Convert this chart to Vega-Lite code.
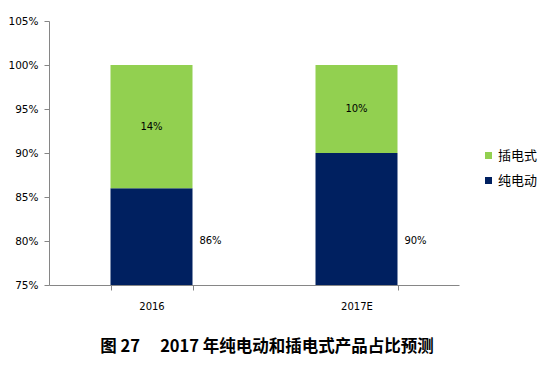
{
  "$schema": "https://vega.github.io/schema/vega-lite/v6.json",
  "width": 410,
  "height": 264,
  "autosize": "none",
  "padding": {"left": 49, "top": 21, "right": 82, "bottom": 90},
  "background": "white",
  "config": {
    "view": {"stroke": null},
    "font": "DejaVu Sans"
  },
  "title": {
    "text": "图 27\u3000\u00a02017 年纯电动和插电式产品占比预测",
    "orient": "bottom",
    "anchor": "middle",
    "dx": 13,
    "offset": 28,
    "font": "Noto Sans CJK SC",
    "fontSize": 16.5,
    "fontWeight": "bold",
    "color": "#000000"
  },
  "data": {
    "values": [
      {"year": "2016", "type": "纯电动", "value": 0.86},
      {"year": "2016", "type": "插电式", "value": 0.14},
      {"year": "2017E", "type": "纯电动", "value": 0.90},
      {"year": "2017E", "type": "插电式", "value": 0.10}
    ]
  },
  "encoding": {
    "x": {
      "field": "year",
      "type": "nominal",
      "scale": {"paddingInner": 0.6, "paddingOuter": 0.3},
      "axis": {
        "title": null,
        "labelAngle": 0,
        "tickBand": "extent",
        "domainColor": "#868686",
        "tickColor": "#868686",
        "tickSize": 5,
        "labelPadding": 11,
        "labelFontSize": 10,
        "labelColor": "#000000"
      }
    }
  },
  "layer": [
    {
      "mark": {"type": "bar", "clip": true},
      "encoding": {
        "y": {
          "field": "value",
          "type": "quantitative",
          "stack": "zero",
          "scale": {"domain": [0.75, 1.05], "nice": false, "zero": false},
          "axis": {
            "title": null,
            "values": [0.75, 0.8, 0.85, 0.9, 0.95, 1.0, 1.05],
            "format": ".0%",
            "grid": false,
            "domainColor": "#868686",
            "tickColor": "#868686",
            "tickSize": 5,
            "labelPadding": 6,
            "labelFontSize": 10.5,
            "labelColor": "#000000"
          }
        },
        "color": {
          "field": "type",
          "type": "nominal",
          "scale": {"domain": ["插电式", "纯电动"], "range": ["#92D050", "#002060"]},
          "legend": {
            "title": null,
            "orient": "none",
            "legendX": 433,
            "legendY": 128,
            "symbolType": "square",
            "symbolSize": 49,
            "symbolStrokeWidth": 0,
            "labelFont": "Noto Sans CJK SC",
            "labelFontSize": 13,
            "labelColor": "#000000",
            "labelOffset": 3,
            "rowPadding": 11
          }
        },
        "order": {"field": "value", "sort": "descending"}
      }
    },
    {
      "transform": [
        {"stack": "value", "groupby": ["year"], "sort": [{"field": "value", "order": "descending"}], "as": ["v0", "v1"]},
        {"filter": "datum.type == '插电式'"},
        {"calculate": "(datum.v0 + datum.v1) / 2", "as": "mid"}
      ],
      "mark": {"type": "text", "fontSize": 10, "color": "#000000"},
      "encoding": {
        "y": {"field": "mid", "type": "quantitative"},
        "text": {"field": "value", "type": "quantitative", "format": ".0%"}
      }
    },
    {
      "transform": [{"filter": "datum.type == '纯电动'"}],
      "mark": {"type": "text", "fontSize": 10, "color": "#000000", "dx": 59},
      "encoding": {
        "y": {"datum": 0.80},
        "text": {"field": "value", "type": "quantitative", "format": ".0%"}
      }
    }
  ]
}
